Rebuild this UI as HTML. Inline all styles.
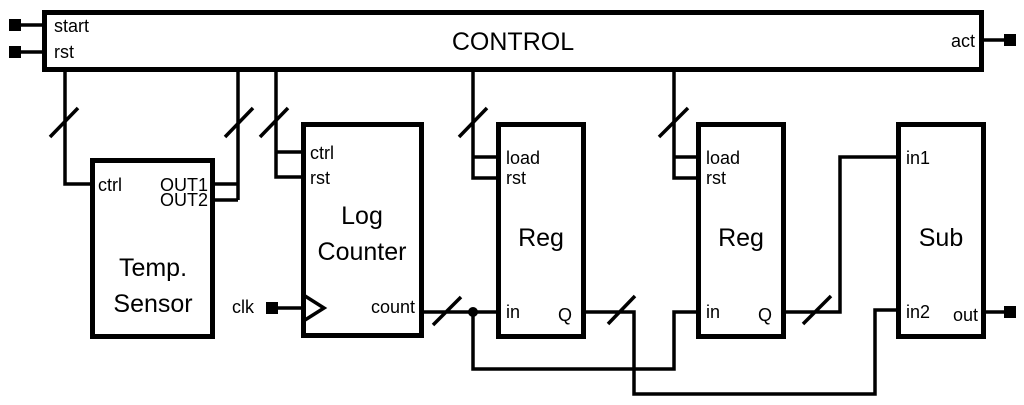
<!DOCTYPE html>
<html><head><meta charset="utf-8"><style>
html,body{margin:0;padding:0;background:#fff;}
svg{display:block;}
text{font-family:"Liberation Sans",sans-serif;fill:#000;}
</style></head><body>
<svg width="1024" height="405" viewBox="0 0 1024 405" xmlns="http://www.w3.org/2000/svg">
<g fill="none" stroke="#000" stroke-width="5">
<rect x="44.5" y="12.5" width="937" height="57"/>
<rect x="92.5" y="160.5" width="120" height="176"/>
<rect x="303.5" y="124.5" width="118" height="211"/>
<rect x="498.5" y="124.5" width="85" height="212"/>
<rect x="698.5" y="124.5" width="85" height="212"/>
<rect x="898.5" y="124.5" width="85" height="212"/>
</g>
<g fill="none" stroke="#000" stroke-width="3.5">
<path d="M14 25H44M14 52H44M982 40H1010"/>
<path d="M65 70V184H92"/>
<path d="M212 184H238M212 200H238M238 70V200"/>
<path d="M276 70V177H303M276 152H303"/>
<path d="M473 70V178H498M473 157H498"/>
<path d="M674 70V178H698M674 157H698"/>
<path d="M50 137L78 108M225 137L253 108M260 137L288 108M459 137L487 108M659 137L688 108"/>
<path d="M272 308H303"/>
<path d="M305 296L324 308L305 320"/>
<path d="M421 312H498M433 325L461 297"/>
<path d="M473 312V369H674V312H698"/>
<path d="M583 312H634V394H875V310H898M608 324L635 296"/>
<path d="M783 312H840V157H898M803 324L831 296"/>
<path d="M983 312H1010"/>
</g>
<g fill="#000">
<rect x="9" y="19" width="12" height="12"/>
<rect x="9" y="46" width="12" height="12"/>
<rect x="1004" y="34" width="12" height="12"/>
<rect x="266" y="302" width="12" height="12"/>
<rect x="1004" y="306" width="12" height="12"/>
<circle cx="473" cy="312" r="5"/>
</g>
<g font-size="18">
<text x="54" y="32">start</text>
<text x="54" y="58">rst</text>
<text x="975" y="47" text-anchor="end">act</text>
<text x="98" y="191">ctrl</text>
<text x="208" y="191" text-anchor="end">OUT1</text>
<text x="208" y="206" text-anchor="end">OUT2</text>
<text x="310" y="159">ctrl</text>
<text x="310" y="184">rst</text>
<text x="232" y="313">clk</text>
<text x="415" y="313" text-anchor="end">count</text>
<text x="506" y="164">load</text>
<text x="506" y="184">rst</text>
<text x="506" y="318">in</text>
<text x="558" y="321">Q</text>
<text x="706" y="164">load</text>
<text x="706" y="184">rst</text>
<text x="706" y="318">in</text>
<text x="758" y="321">Q</text>
<text x="906" y="164">in1</text>
<text x="906" y="318">in2</text>
<text x="978" y="321" text-anchor="end">out</text>
</g>
<g font-size="25" text-anchor="middle">
<text x="513" y="50">CONTROL</text>
<text x="153" y="276">Temp.</text>
<text x="153" y="312">Sensor</text>
<text x="362" y="224">Log</text>
<text x="362" y="260">Counter</text>
<text x="541" y="246">Reg</text>
<text x="741" y="246">Reg</text>
<text x="941" y="246">Sub</text>
</g>
</svg>
</body></html>
